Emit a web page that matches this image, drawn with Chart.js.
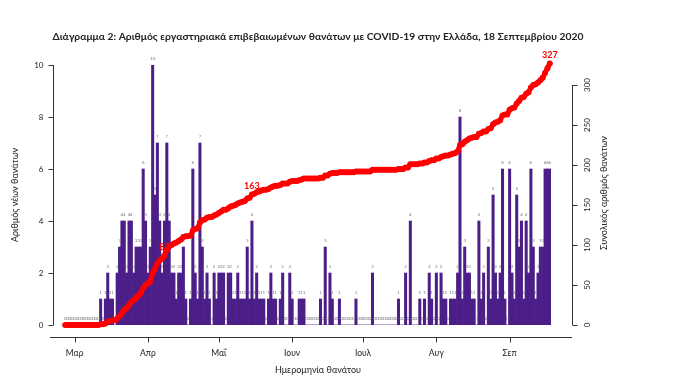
<!DOCTYPE html>
<html>
<head>
<meta charset="utf-8">
<script src="https://cdn.jsdelivr.net/npm/chart.js@4"></script>
<style>
  html, body { margin: 0; padding: 0; background: #fff; }
</style>
</head>
<body>
<canvas id="chart" width="683" height="392"></canvas>
<script>
const chart_title = 'Διάγραμμα 2: Αριθμός εργαστηριακά επιβεβαιωμένων θανάτων με COVID-19 στην Ελλάδα, 18 Σεπτεμβρίου 2020'
const x_title = 'Ημερομηνία θανάτου'
const y_title = 'Αριθμός νέων θανάτων'
const y1_title = 'Συνολικός αριθμός θανάτων'

// daily deaths, 26 Feb -> 18 Sep 2020
const first_day = '2020-02-26'
const daily_feb = [0, 0, 0, 0]
const daily_mar = [0,0,0,0,0,0,0,0,0,0,0,1,0,1,2,1,1,0,2,3,4,4,2,4,4,2,3,3,3,6,4]
const daily_apr = [2,3,10,5,7,4,2,4,7,4,2,2,1,2,2,3,1,0,1,6,2,1,7,3,1,2,1,0,2,1]
const daily_may = [2,2,2,0,2,2,1,1,2,1,1,1,3,1,4,1,2,1,1,1,0,1,2,1,1,0,1,2,0,0,2]
const daily_jun = [1,0,0,1,1,1,0,0,0,0,0,0,1,0,3,0,2,1,0,0,1,0,0,0,0,0,0,1,0,0]
const daily_jul = [0,0,0,0,2,0,0,0,0,0,0,0,0,0,0,1,0,0,2,0,4,0,0,0,1,0,1,0,2,1,0]
const daily_aug = [2,0,2,1,1,0,1,1,1,2,8,1,3,2,2,1,1,0,4,1,2,0,3,1,5,2,1,2,6,1,0]
const daily_sep = [6,2,1,5,3,4,1,4,2,6,3,1,2,3,3,6,6,6]

// total deaths, same days
const total_feb = [0, 0, 0, 0]
const total_mar = [0,0,0,0,0,0,0,0,0,0,0,1,1,2,4,5,6,6,8,11,15,19,21,25,29,31,34,37,40,46,50]
const total_apr = [52,55,65,70,77,81,83,87,94,98,100,102,103,105,107,110,111,111,112,118,120,121,128,131,132,134,135,135,137,138]
const total_may = [140,142,144,144,146,148,149,150,152,153,154,155,158,159,163,164,166,167,168,169,169,170,172,173,174,174,175,177,177,177,179]
const total_jun = [180,180,180,181,182,183,183,183,183,183,183,183,184,184,187,187,189,190,190,190,191,191,191,191,191,191,191,192,192,192]
const total_jul = [192,192,192,192,194,194,194,194,194,194,194,194,194,194,194,195,195,195,197,197,201,201,201,201,202,202,203,203,205,206,206]
const total_aug = [208,208,210,211,212,212,213,214,215,217,225,226,229,231,233,234,235,235,239,240,242,242,245,246,251,253,254,256,262,263,263]
const total_sep = [269,271,272,277,280,284,285,289,291,297,300,301,303,306,309,315,321,327]

const month_ticks = ['Μαρ', 'Απρ', 'Μαΐ', 'Ιουν', 'Ιουλ', 'Αυγ', 'Σεπ']
const month_tick_dates = ['2020-03-01', '2020-04-01', '2020-05-01', '2020-06-01', '2020-07-01', '2020-08-01', '2020-09-01']
const y_ticks = [0, 2, 4, 6, 8, 10]
const y1_ticks = [0, 50, 100, 150, 200, 250, 300]
const labelled_dates = ['2020-04-08', '2020-05-15', '2020-09-18']

const daily_deaths = [].concat(daily_feb, daily_mar, daily_apr, daily_may, daily_jun, daily_jul, daily_aug, daily_sep)
const total_deaths = [].concat(total_feb, total_mar, total_apr, total_may, total_jun, total_jul, total_aug, total_sep)

const dates = []
let day = Date.parse(first_day)
for (let i = 0; i < daily_deaths.length; i++) {
  const d = new Date(day)
  dates.push(d.toISOString().slice(0, 10))
  day += 1000 * 60 * 60 * 24
}

const FONT = 'Lato, "Open Sans", sans-serif'
const BAR = '#4b1e88'
const RED = '#ff0000'

// R style axes, drawn off the chart area
const r_axes = {
  id: 'r_axes',
  afterDatasetDraw (chart, args) {
    if (args.index !== 1) return
    const ctx = chart.ctx
    const x = chart.scales.x
    const y = chart.scales.y
    ctx.save()
    ctx.fillStyle = '#7a7a7a'
    ctx.font = '4.5px ' + FONT
    ctx.textAlign = 'center'
    ctx.textBaseline = 'bottom'
    daily_deaths.forEach((v, i) => {
      ctx.fillText(String(v), x.getPixelForValue(i), y.getPixelForValue(v) - 4)
    })
    ctx.restore()
  },
  afterDraw (chart) {
    const ctx = chart.ctx
    const x = chart.scales.x
    const y = chart.scales.y
    const y1 = chart.scales.y1
    ctx.save()
    ctx.strokeStyle = '#333'
    ctx.fillStyle = '#222'
    ctx.lineWidth = 1

    // title
    ctx.font = 'bold 10.3px ' + FONT
    ctx.textAlign = 'center'
    ctx.textBaseline = 'middle'
    ctx.fillText(chart_title, 318, 37)

    // red labels on the total line
    ctx.fillStyle = RED
    ctx.font = 'bold 9px ' + FONT
    ctx.textBaseline = 'bottom'
    for (const d of labelled_dates) {
      const i = dates.indexOf(d)
      ctx.fillText(String(total_deaths[i]), x.getPixelForValue(i), y1.getPixelForValue(total_deaths[i]) - 4)
    }
    ctx.fillStyle = '#222'

    // left axis
    const lx = 53.5
    ctx.beginPath()
    ctx.moveTo(lx, y.getPixelForValue(0))
    ctx.lineTo(lx, y.getPixelForValue(10))
    for (const t of y_ticks) {
      const py = Math.round(y.getPixelForValue(t)) + 0.5
      ctx.moveTo(lx, py)
      ctx.lineTo(lx - 5, py)
    }
    ctx.stroke()
    ctx.font = '8px ' + FONT
    ctx.textAlign = 'right'
    ctx.textBaseline = 'middle'
    for (const t of y_ticks) ctx.fillText(String(t), lx - 10, y.getPixelForValue(t))

    // bottom axis
    const by = 337.5
    ctx.beginPath()
    ctx.moveTo(50, by)
    ctx.lineTo(572, by)
    month_tick_dates.forEach(d => {
      const px = Math.round(x.getPixelForValue(dates.indexOf(d))) + 0.5
      ctx.moveTo(px, by)
      ctx.lineTo(px, by + 5)
    })
    ctx.stroke()
    ctx.font = '8.5px ' + FONT
    ctx.textAlign = 'center'
    ctx.textBaseline = 'middle'
    month_tick_dates.forEach((d, k) => {
      ctx.fillText(month_ticks[k], x.getPixelForValue(dates.indexOf(d)), 353)
    })
    ctx.font = '9px ' + FONT
    ctx.fillText(x_title, 318, 370)

    // right axis
    const rx = 572.5
    ctx.beginPath()
    ctx.moveTo(rx, y1.getPixelForValue(0))
    ctx.lineTo(rx, y1.getPixelForValue(300))
    for (const t of y1_ticks) {
      const py = Math.round(y1.getPixelForValue(t)) + 0.5
      ctx.moveTo(rx, py)
      ctx.lineTo(rx + 5, py)
    }
    ctx.stroke()
    ctx.font = '8px ' + FONT
    for (const t of y1_ticks) {
      ctx.save()
      ctx.translate(587, y1.getPixelForValue(t))
      ctx.rotate(-Math.PI / 2)
      ctx.fillText(String(t), 0, 0)
      ctx.restore()
    }

    // axis titles
    ctx.font = '9px ' + FONT
    ctx.save()
    ctx.translate(15, 195)
    ctx.rotate(-Math.PI / 2)
    ctx.fillText(y_title, 0, 0)
    ctx.restore()
    ctx.save()
    ctx.translate(604, 193)
    ctx.rotate(-Math.PI / 2)
    ctx.fillText(y1_title, 0, 0)
    ctx.restore()

    ctx.restore()
  }
}

new Chart(document.getElementById('chart'), {
  type: 'bar',
  data: {
    labels: dates,
    datasets: [
      {
        type: 'line',
        label: y1_title,
        data: total_deaths,
        yAxisID: 'y1',
        borderColor: RED,
        backgroundColor: RED,
        borderWidth: 5,
        pointRadius: 3,
        pointBorderWidth: 0,
        pointHoverRadius: 0,
        tension: 0,
        clip: false,
        order: 0
      },
      {
        type: 'bar',
        label: y_title,
        data: daily_deaths,
        yAxisID: 'y',
        backgroundColor: BAR,
        borderWidth: 0,
        barPercentage: 1,
        categoryPercentage: 1,
        order: 1
      }
    ]
  },
  options: {
    responsive: false,
    animation: false,
    layout: { padding: { left: 64, right: 132, top: 65, bottom: 67 } },
    plugins: {
      legend: { display: false },
      tooltip: { enabled: false }
    },
    scales: {
      x: { display: false, offset: true },
      y: { display: false, min: 0, max: 10 },
      y1: { display: false, position: 'right', min: 0, max: 325 }
    }
  },
  plugins: [r_axes]
})
</script>
</body>
</html>
